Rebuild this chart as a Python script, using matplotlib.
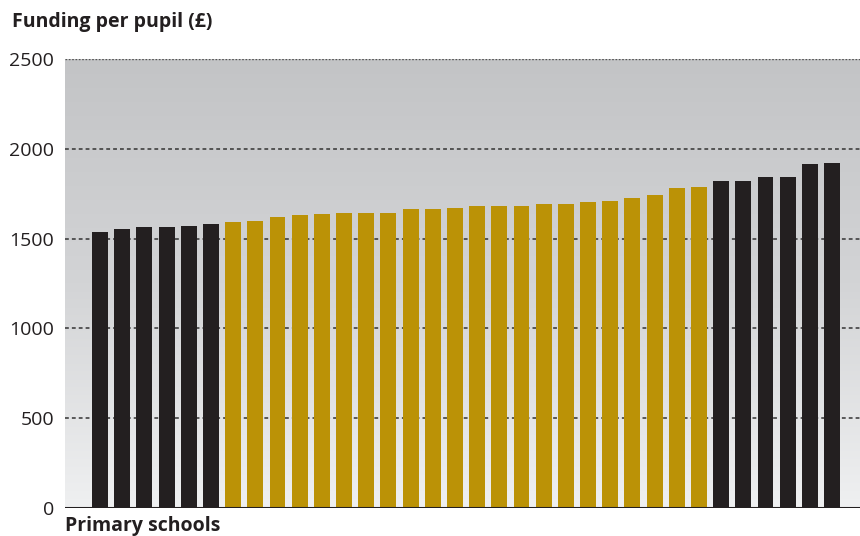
import numpy as np
import matplotlib
matplotlib.use('Agg')
import matplotlib.pyplot as plt
from matplotlib.colors import LinearSegmentedColormap

# Datos: financiación por alumno, escuelas primarias
bajos = [1535, 1551, 1562, 1562, 1568, 1579]
medios = [1590, 1596, 1618, 1629, 1635, 1640, 1640, 1640, 1663, 1663, 1668,
          1680, 1680, 1680, 1691, 1691, 1702, 1708, 1724, 1741, 1780, 1786]
altos = [1819, 1819, 1842, 1842, 1914, 1920]
yticks = [0, 500, 1000, 1500, 2000, 2500]

plt.rcParams['font.family'] = ['Open Sans', 'DejaVu Sans']

valores = bajos + medios + altos
colores = ['#231f20'] * len(bajos) + ['#bb9206'] * len(medios) + ['#231f20'] * len(altos)
x = np.arange(len(valores))

fig = plt.figure(figsize=(8.6, 5.36), dpi=100)
ax = fig.add_axes([65 / 860, 28 / 536, 795 / 860, 449 / 536])

# Fondo degradado
fondo = LinearSegmentedColormap.from_list('fondo', ['#eff0f1', '#d3d4d6', '#c3c4c6'])
grad = np.linspace(0, 1, 256).reshape(-1, 1)
ax.imshow(grad, cmap=fondo, aspect='auto', origin='lower',
          extent=[0, 1, 0, 1], transform=ax.transAxes, zorder=0)

for yv in yticks[1:-1]:
    ax.axhline(yv, color='#333333', lw=1.1, ls=(0, (2.5, 2)), zorder=1)
ax.axhline(yticks[-1], color='#555555', lw=1.0, ls=(0, (1.2, 1.2)), zorder=1)

ax.bar(x, valores, width=0.72, color=colores, zorder=2)
ax.axhline(0, color='#231f20', lw=2.2, zorder=3)

ax.set_xlim(-1.58, 34.26)
ax.set_ylim(0, 2500)
ax.set_yticks(yticks)
ax.set_yticklabels([str(v) for v in yticks], fontsize=14, color='#231f20')
ax.set_xticks([])
ax.tick_params(axis='y', length=0, pad=8)
for s in ax.spines.values():
    s.set_visible(False)

fig.text(12 / 860, 1 - 22 / 536, 'Funding per pupil (£)', fontsize=14,
         fontweight='bold', color='#231f20', va='center', ha='left')
fig.text(65 / 860, 1 - 526 / 536, 'Primary schools', fontsize=14,
         fontweight='bold', color='#231f20', va='center', ha='left')

fig.savefig('out.png', dpi=100)
